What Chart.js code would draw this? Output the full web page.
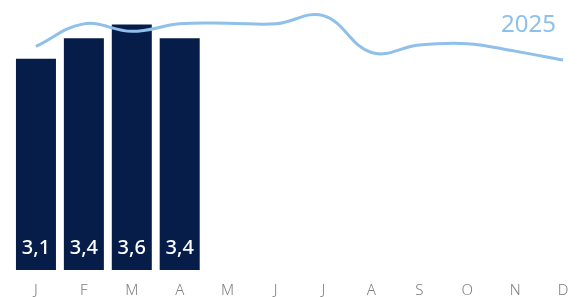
<!DOCTYPE html>
<html>
<head>
<meta charset="utf-8">
<script src="https://cdn.jsdelivr.net/npm/chart.js@4"></script>
<style>
  html, body { margin: 0; padding: 0; background: #fff; }
  #wrap { width: 587px; height: 297px; }
</style>
</head>
<body>
<div id="wrap"><canvas id="chart"></canvas></div>
<script>
// Months and values
const months = ["J", "F", "M", "A", "M", "J", "J", "A", "S", "O", "N", "D"];
const bars2025 = [3.1, 3.4, 3.6, 3.4, null, null, null, null, null, null, null, null];
const barLabels = ["3,1", "3,4", "3,6", "3,4"];
const trendLine = [3.28, 3.61, 3.50, 3.61, 3.62, 3.61, 3.73, 3.19, 3.30, 3.32, 3.21, 3.08];
const seriesName = "2025";

const navy = "#061d49";
const lightBlue = "#8ec0ea";

// white value labels near the bottom of each bar + the "2025" tag
const labelPlugin = {
  id: "labels",
  afterDatasetsDraw(chart) {
    const ctx = chart.ctx;
    const meta = chart.getDatasetMeta(1);
    const area = chart.chartArea;
    ctx.save();
    ctx.fillStyle = "#ffffff";
    ctx.font = "500 20px 'Noto Sans'";
    ctx.textAlign = "center";
    ctx.textBaseline = "middle";
    meta.data.forEach((bar, i) => {
      if (barLabels[i] == null) return;
      ctx.fillText(barLabels[i], bar.x, area.bottom - 22);
    });
    ctx.fillStyle = lightBlue;
    ctx.font = "24px 'Noto Sans'";
    ctx.textAlign = "right";
    ctx.fillText(seriesName, 556, 25);
    ctx.restore();
  }
};

const ctx = document.getElementById("chart").getContext("2d");
new Chart(ctx, {
  data: {
    labels: months,
    datasets: [
      {
        type: "line",
        data: trendLine,
        borderColor: lightBlue,
        borderWidth: 3,
        pointRadius: 0,
        tension: 0.4,
        fill: false,
        clip: false,
        order: 0
      },
      {
        type: "bar",
        data: bars2025,
        backgroundColor: navy,
        barPercentage: 0.835,
        categoryPercentage: 1,
        order: 1
      }
    ]
  },
  options: {
    responsive: true,
    maintainAspectRatio: false,
    animation: false,
    layout: { padding: { left: 12, right: 0, top: 0, bottom: -15 } },
    plugins: {
      legend: { display: false },
      tooltip: { enabled: false }
    },
    scales: {
      x: {
        grid: { display: false, drawTicks: false },
        border: { display: false },
        ticks: {
          color: "#808080",
          font: { family: "'Noto Sans'", size: 15, weight: "300" },
          padding: 12
        }
      },
      y: {
        display: false,
        min: 0,
        max: 3.96
      }
    }
  },
  plugins: [labelPlugin]
});
</script>
</body>
</html>
